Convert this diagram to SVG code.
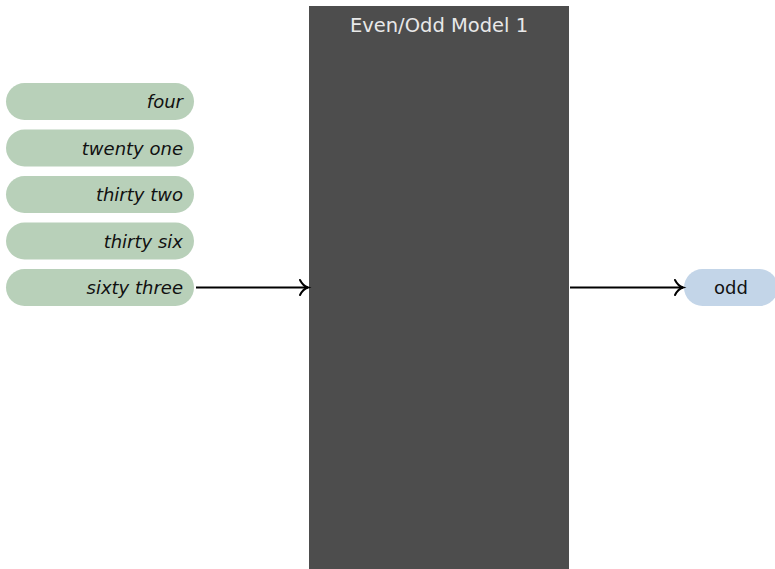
<svg xmlns="http://www.w3.org/2000/svg" width="775" height="569" viewBox="0 0 775 569">
<defs>
<style>
.in rect{fill:#b8d0b9;}
.in text{font-family:"DejaVu Sans",sans-serif;font-style:italic;font-size:18px;fill:#111;text-anchor:end;}
.out rect{fill:#c3d5e8;}
.out text{font-family:"DejaVu Sans",sans-serif;font-size:18px;fill:#111;text-anchor:middle;}
.conn{stroke:#000;stroke-width:1.8;fill:none;}
</style>
<marker id="arr" markerWidth="14" markerHeight="20" refX="10" refY="10" orient="auto" markerUnits="userSpaceOnUse">
<path d="M2,2.5 Q5,8.5 10,10 Q5,11.5 2,17.5" fill="none" stroke="#000" stroke-width="2" stroke-linecap="round"/>
</marker>
</defs>
<g id="model">
<rect x="309" y="6" width="260" height="563" fill="#4d4d4d"/>
<text x="439" y="32" font-family="DejaVu Sans,sans-serif" font-size="19.5" fill="#e8e8e8" text-anchor="middle">Even/Odd Model 1</text>
</g>
<g id="in-four" class="in"><rect x="6" y="83" width="188" height="37" rx="18.5"/><text x="183" y="108">four</text></g>
<g id="in-twenty-one" class="in"><rect x="6" y="129.5" width="188" height="37" rx="18.5"/><text x="183" y="154.5">twenty one</text></g>
<g id="in-thirty-two" class="in"><rect x="6" y="176" width="188" height="37" rx="18.5"/><text x="183" y="201">thirty two</text></g>
<g id="in-thirty-six" class="in"><rect x="6" y="222.5" width="188" height="37" rx="18.5"/><text x="183" y="247.5">thirty six</text></g>
<g id="in-sixty-three" class="in"><rect x="6" y="269" width="188" height="37" rx="18.5"/><text x="183" y="294">sixty three</text></g>
<g id="out-odd" class="out"><rect x="684" y="269" width="94" height="37" rx="18.5"/><text x="731" y="294">odd</text></g>
<g id="connectors">
<line class="conn" x1="196" y1="287.5" x2="308" y2="287.5" marker-end="url(#arr)"/>
<line class="conn" x1="570" y1="287.5" x2="683" y2="287.5" marker-end="url(#arr)"/>
</g>
</svg>
